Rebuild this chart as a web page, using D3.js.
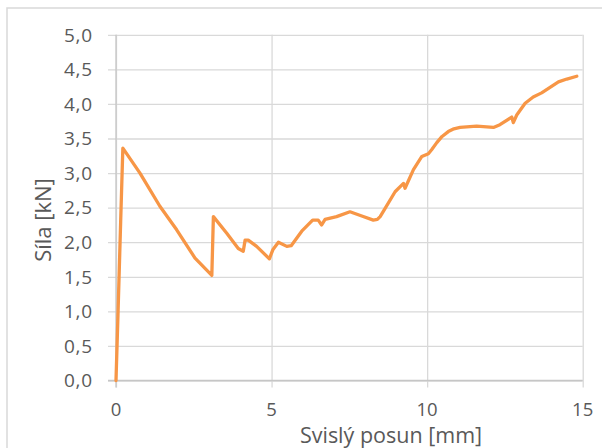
<!DOCTYPE html>
<html>
<head>
<meta charset="utf-8">
<script src="https://cdn.jsdelivr.net/npm/d3@7"></script>
<style>
  html, body { margin: 0; padding: 0; background: #fff; }
  svg { display: block; }
  text { font-family: "Open Sans", "Liberation Sans", sans-serif; fill: #595959; }
</style>
</head>
<body>
<svg id="chart" width="602" height="448"></svg>
<script>
// Measured load–displacement curve: vertical displacement [mm] vs force [kN]
const displacement = [
  0.00, 0.06, 0.15, 0.22, 0.77, 1.41, 1.95, 2.54, 3.08,
  3.13, 3.56, 3.93, 4.09, 4.15, 4.25, 4.52, 4.93,
  5.04, 5.22, 5.49, 5.63, 5.97, 6.32, 6.50, 6.61, 6.72,
  7.09, 7.52, 7.90, 8.27, 8.40, 8.49, 8.65, 8.97, 9.24, 9.29,
  9.56, 9.83, 10.04, 10.15, 10.31, 10.48, 10.68, 10.86, 11.06, 11.59, 12.13, 12.34,
  12.72, 12.77, 12.88, 13.15, 13.41, 13.68, 13.95, 14.22, 14.49, 14.81
];
const force = [
  0.00, 0.90, 2.30, 3.36, 3.00, 2.52, 2.18, 1.77, 1.52,
  2.37, 2.13, 1.91, 1.87, 2.03, 2.03, 1.94, 1.76,
  1.89, 2.00, 1.94, 1.95, 2.16, 2.32, 2.32, 2.25, 2.33,
  2.37, 2.44, 2.38, 2.32, 2.33, 2.37, 2.49, 2.73, 2.85, 2.78,
  3.05, 3.24, 3.28, 3.34, 3.44, 3.53, 3.60, 3.64, 3.66, 3.68, 3.66, 3.70,
  3.81, 3.73, 3.84, 4.01, 4.10, 4.16, 4.24, 4.32, 4.36, 4.40
];

const xTicks = [0, 5, 10, 15];
const yTicks = [0, 0.5, 1, 1.5, 2, 2.5, 3, 3.5, 4, 4.5, 5];
const xTitle = "Svislý posun [mm]";
const yTitle = "Síla [kN]";

const svg = d3.select("#chart");
const fmtY = v => d3.format(".1f")(v).replace(".", ",");

const x = d3.scaleLinear().domain([0, 15]).range([116, 582.7]);
const y = d3.scaleLinear().domain([0, 5]).range([380.5, 34.8]);

// outer chart frame
svg.append("rect")
  .attr("x", 7).attr("y", 8).attr("width", 620).attr("height", 460)
  .attr("fill", "none").attr("stroke", "#d9d9d9").attr("stroke-width", 1.5);

// horizontal gridlines with small left ticks
svg.append("g")
  .attr("transform", `translate(${x(0)},0)`)
  .call(d3.axisLeft(y).tickValues(yTicks).tickSize(-(x(15) - x(0))).tickFormat(""))
  .call(g => g.select(".domain").remove())
  .call(g => g.selectAll(".tick line")
    .attr("stroke", "#d9d9d9").attr("stroke-width", 1.3)
    .attr("x1", -8));

// vertical gridlines, extending slightly below the x axis
svg.append("g")
  .attr("transform", `translate(0,${y(0)})`)
  .call(d3.axisBottom(x).tickValues(xTicks).tickSize(-(y(0) - y(5))).tickFormat(""))
  .call(g => g.select(".domain").remove())
  .call(g => g.selectAll(".tick line")
    .attr("stroke", "#d9d9d9").attr("stroke-width", 1.3)
    .attr("y1", 7));

// axis lines
svg.append("line")
  .attr("x1", x(0) - 8).attr("x2", x(15)).attr("y1", y(0)).attr("y2", y(0))
  .attr("stroke", "#c6c6c6").attr("stroke-width", 1.3);
svg.append("line")
  .attr("x1", x(0)).attr("x2", x(0)).attr("y1", y(5)).attr("y2", y(0) + 7)
  .attr("stroke", "#c6c6c6").attr("stroke-width", 1.3);

// tick labels
svg.append("g").selectAll("text")
  .data(yTicks).join("text")
  .attr("x", 93).attr("y", d => y(d)).attr("dy", "0.36em")
  .attr("text-anchor", "end").attr("font-size", 19)
  .attr("letter-spacing", 0.8)
  .text(fmtY);

svg.append("g").selectAll("text")
  .data(xTicks).join("text")
  .attr("x", d => x(d)).attr("y", 416)
  .attr("text-anchor", "middle").attr("font-size", 18.5)
  .text(d => d);

// axis titles
svg.append("text")
  .attr("x", 391).attr("y", 442.5)
  .attr("text-anchor", "middle").attr("font-size", 21.5)
  .text(xTitle);

svg.append("text")
  .attr("transform", "translate(51,220) rotate(-90)")
  .attr("text-anchor", "middle").attr("font-size", 22)
  .text(yTitle);

// data line
const line = d3.line()
  .x((d, i) => x(displacement[i]))
  .y(d => y(d))
  .curve(d3.curveLinear);

svg.append("path")
  .datum(force)
  .attr("d", line)
  .attr("fill", "none")
  .attr("stroke", "#f79646")
  .attr("stroke-width", 3.3)
  .attr("stroke-linejoin", "round")
  .attr("stroke-linecap", "round");
</script>
</body>
</html>
